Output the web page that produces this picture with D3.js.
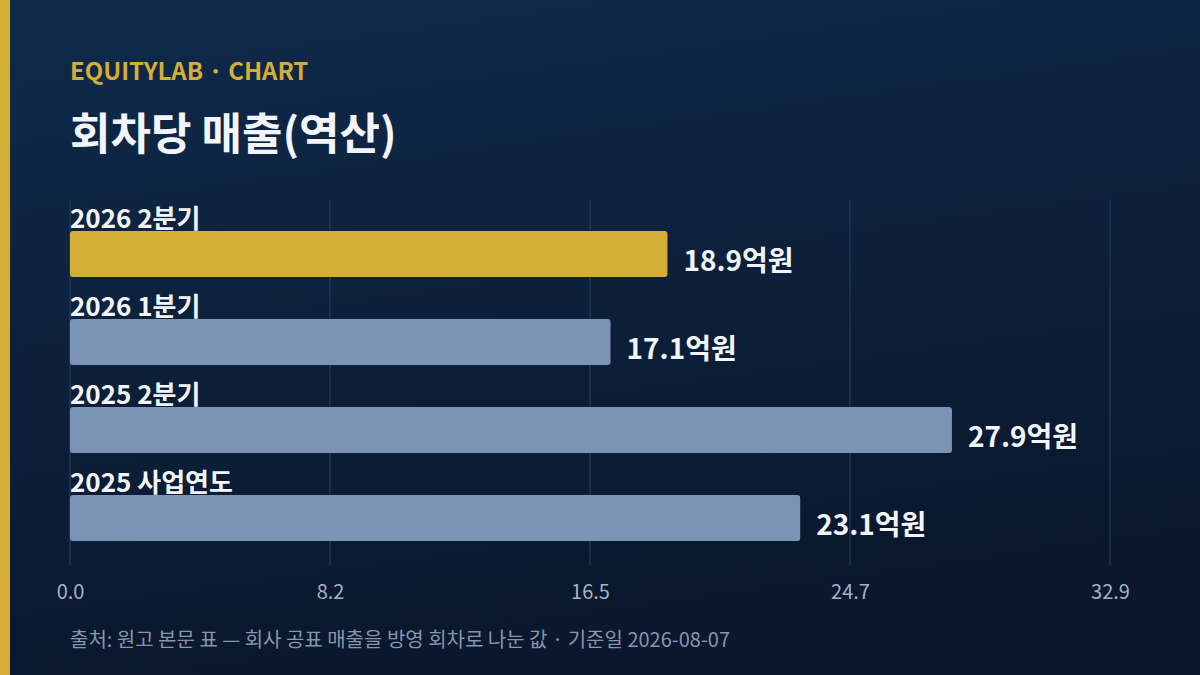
<!DOCTYPE html>
<html>
<head>
<meta charset="utf-8">
<script src="https://cdn.jsdelivr.net/npm/d3@7"></script>
<style>
  html, body { margin: 0; padding: 0; background: #0c1c35; }
  svg { display: block; font-family: "Noto Sans CJK KR", "Noto Sans", sans-serif; }
</style>
</head>
<body>
<svg id="chart" width="1200" height="675"></svg>
<script>
// values (억원)
var categories = ["2026 2분기", "2026 1분기", "2025 2분기", "2025 사업연도"];
var revenue = [18.9, 17.1, 27.9, 23.1];
var highlight = [true, false, false, false];
var tickValues = [0, 8.225, 16.45, 24.675, 32.9];
var tickLabels = ["0.0", "8.2", "16.5", "24.7", "32.9"];
var xMax = 32.9;

var svg = d3.select("#chart"),
    width = +svg.attr("width"),
    height = +svg.attr("height"),
    margin = {top: 200, right: 90, bottom: 110, left: 70};

var defs = svg.append("defs");
var grad = defs.append("linearGradient")
    .attr("id", "bg").attr("x1", 0).attr("y1", 0).attr("x2", 0.25).attr("y2", 1);
grad.append("stop").attr("offset", "0%").attr("stop-color", "#0f2a4b");
grad.append("stop").attr("offset", "100%").attr("stop-color", "#0a172c");

svg.append("rect").attr("width", width).attr("height", height).attr("fill", "url(#bg)");
svg.append("rect").attr("width", 10).attr("height", height).attr("fill", "#d4af37");

svg.append("text")
    .attr("x", 70).attr("y", 80)
    .attr("fill", "#d4af37")
    .style("font-size", "24px").style("font-weight", 700)
    .text("EQUITYLAB · CHART");

svg.append("text")
    .attr("x", 70).attr("y", 150)
    .attr("fill", "#f2f5fa")
    .style("font-size", "44px").style("font-weight", 700)
    .text("회차당 매출(역산)");

var x = d3.scaleLinear().domain([0, xMax]).range([margin.left, width - margin.right]);
var y = d3.scaleBand().domain(categories).range([207, 559]).paddingInner(0).paddingOuter(0);

// grid
svg.append("g").selectAll("line")
  .data(tickValues)
  .enter().append("line")
    .attr("x1", function(d) { return x(d); })
    .attr("x2", function(d) { return x(d); })
    .attr("y1", 200).attr("y2", 565)
    .attr("stroke", "#2b4567").attr("stroke-width", 1);

// axis labels
var xAxis = d3.axisBottom(x)
    .tickValues(tickValues)
    .tickFormat(function(d, i) { return tickLabels[i]; })
    .tickSize(0).tickPadding(0);

var ax = svg.append("g").attr("transform", "translate(0,599)").call(xAxis);
ax.attr("font-size", 20).attr("font-family", "'Noto Sans CJK KR', 'Noto Sans', sans-serif");
ax.select(".domain").remove();
ax.selectAll("text")
    .attr("dy", null).attr("y", 0)
    .attr("fill", "#a3b1c6");

var rows = svg.append("g").selectAll("g")
  .data(categories)
  .enter().append("g")
    .attr("transform", function(d) { return "translate(0," + y(d) + ")"; });

rows.append("text")
    .attr("x", x(0)).attr("y", 21)
    .attr("fill", "#f2f5fa")
    .style("font-size", "26px").style("font-weight", 700)
    .text(function(d) { return d; });

rows.append("rect")
    .attr("x", x(0)).attr("y", 24)
    .attr("width", function(d, i) { return x(revenue[i]) - x(0); })
    .attr("height", 46)
    .attr("rx", 3)
    .attr("fill", function(d, i) { return highlight[i] ? "#d4af37" : "#7b93b4"; });

rows.append("text")
    .attr("x", function(d, i) { return x(revenue[i]) + 16; })
    .attr("y", 64)
    .attr("fill", "#f2f5fa")
    .style("font-size", "28px").style("font-weight", 700)
    .text(function(d, i) { return revenue[i].toFixed(1) + "억원"; });

svg.append("text")
    .attr("x", 70).attr("y", 647)
    .attr("fill", "#8696ad")
    .style("font-size", "20px")
    .text("출처: 원고 본문 표 — 회사 공표 매출을 방영 회차로 나눈 값 · 기준일 2026-08-07");
</script>
</body>
</html>
